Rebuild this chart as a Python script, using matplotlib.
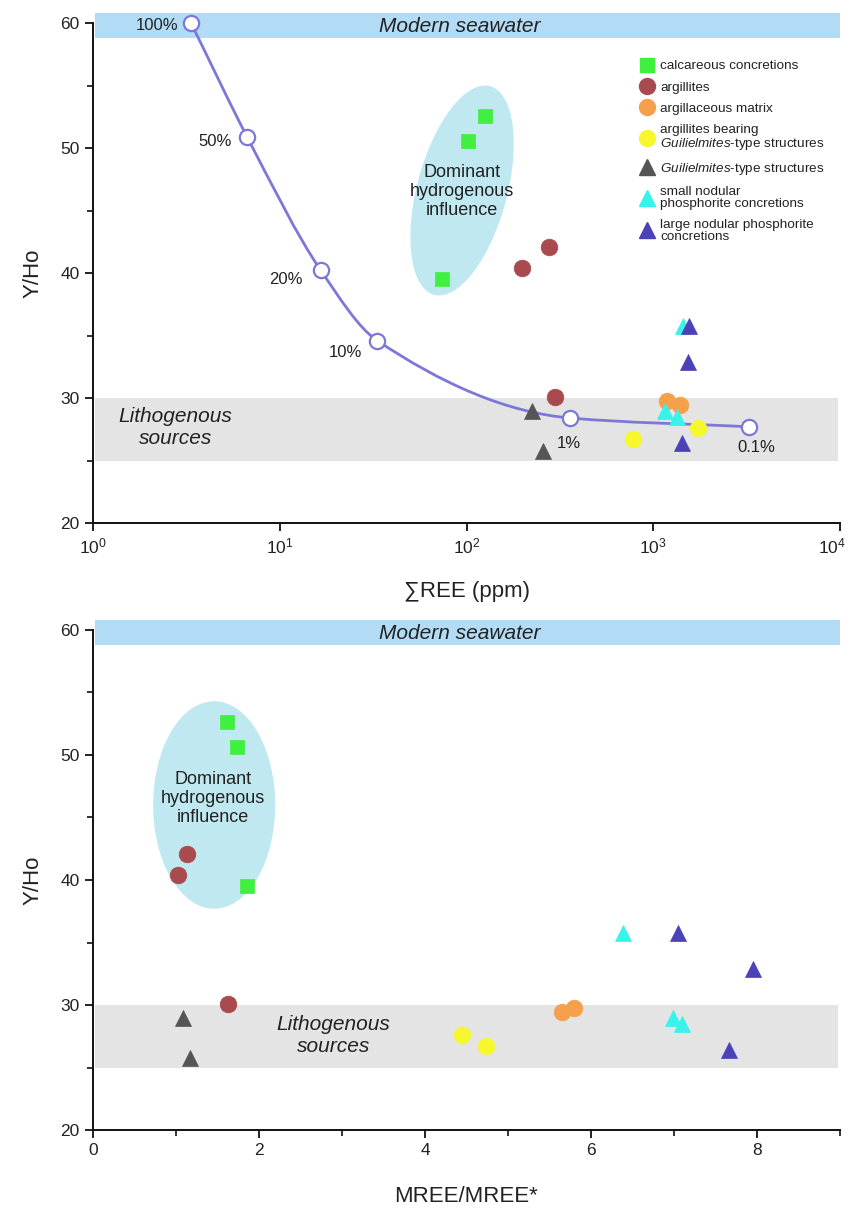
import numpy as np
import matplotlib
matplotlib.use("Agg")
import matplotlib.pyplot as plt
from matplotlib.path import Path
from matplotlib.patches import PathPatch, Ellipse
from matplotlib.lines import Line2D
import matplotlib.transforms as mtransforms

plt.rcParams['font.family'] = ['Liberation Sans', 'DejaVu Sans']
plt.rcParams['mathtext.fontset'] = 'custom'
plt.rcParams['mathtext.rm'] = 'Liberation Sans'
plt.rcParams['mathtext.it'] = 'Liberation Sans:italic'
plt.rcParams['mathtext.bf'] = 'Liberation Sans:bold'

# ---------------- data ----------------
# calcareous concretions
calc_ree = [125.8, 102.0, 74.0]
calc_mree = [1.61, 1.73, 1.85]
calc_yho = [52.6, 50.6, 39.5]
# argillites
arg_ree = [277.0, 199.0, 298.0]
arg_mree = [1.13, 1.03, 1.63]
arg_yho = [42.1, 40.4, 30.1]
# argillaceous matrix
mat_ree = [1190.0, 1390.0]
mat_mree = [5.80, 5.65]
mat_yho = [29.8, 29.45]
# argillites bearing Guilielmites-type structures
argg_ree = [1740.0, 780.0]
argg_mree = [4.44, 4.73]
argg_yho = [27.6, 26.7]
# Guilielmites-type structures
guil_ree = [225.0, 257.0]
guil_mree = [1.08, 1.17]
guil_yho = [29.0, 25.8]
# small nodular phosphorite concretions
small_ree = [1445.0, 1158.0, 1343.0]
small_mree = [6.39, 6.99, 7.10]
small_yho = [35.8, 29.0, 28.5]
# large nodular phosphorite concretions
large_ree = [1557.0, 1538.0, 1428.0]
large_mree = [7.05, 7.95, 7.66]
large_yho = [35.8, 32.9, 26.4]

# mixing curve (seawater fraction)
mix_labels = ['100%', '50%', '20%', '10%', '1%', '0.1%']
mix_ree = [3.35, 6.68, 16.6, 33.2, 359.0, 3265.0]
mix_yho = [60.0, 50.9, 40.2, 34.6, 28.4, 27.7]

groups = [
    ('calcareous concretions', calc_ree, calc_mree, calc_yho, 's', '#3ff03f', 9.5, 9.5),
    ('argillites', arg_ree, arg_mree, arg_yho, 'o', '#a94a4e', 12, 11.5),
    ('argillaceous matrix', mat_ree, mat_mree, mat_yho, 'o', '#f6a04c', 12, 11.5),
    ('argillites bearing\n$\\mathit{Guilielmites}$-type structures', argg_ree, argg_mree, argg_yho, 'o', '#f7f72e', 12, 11.5),
    ('$\\mathit{Guilielmites}$-type structures', guil_ree, guil_mree, guil_yho, '^', '#555555', 11, 11),
    ('small nodular\nphosphorite concretions', small_ree, small_mree, small_yho, '^', '#38f2ec', 11, 11),
    ('large nodular phosphorite\nconcretions', large_ree, large_mree, large_yho, '^', '#4a42b6', 11, 11),
]

SEA_COL = '#b2dbf6'
LITH_COL = '#e4e4e4'
ELL_COL = '#bfe8f0'
CURVE_COL = '#7c78d8'
TXT = '#222222'

fig = plt.figure(figsize=(8.49, 12.08), dpi=100)
ax1 = fig.add_axes([93/849, 1-523/1208, 747/849, 500/1208])
ax2 = fig.add_axes([93/849, 1-1130/1208, 747/849, 500/1208])


def style_axes(ax):
    for s in ['top', 'right']:
        ax.spines[s].set_visible(False)
    for s in ['left', 'bottom']:
        ax.spines[s].set_linewidth(1.4)
        ax.spines[s].set_color('#111111')
    ax.tick_params(which='major', direction='out', length=6, width=1.3, labelsize=12.5,
                   colors='#111111', labelcolor=TXT)
    ax.tick_params(which='minor', direction='out', length=4, width=1.2, colors='#111111')
    ax.set_ylim(20, 60)
    ax.set_yticks([20, 30, 40, 50, 60])
    ax.set_yticks([25, 35, 45, 55], minor=True)
    ax.set_ylabel('Y/Ho', fontsize=16, color=TXT, labelpad=12)


# ---------------- top panel ----------------
ax1.set_xscale('log')
ax1.set_xlim(1, 1e4)
style_axes(ax1)
ax1.xaxis.set_minor_locator(matplotlib.ticker.NullLocator())
ax1.set_xticks([1, 10, 100, 1000, 10000])
ax1.set_xlabel('∑REE (ppm)', fontsize=16, color=TXT, labelpad=18)

# ---------------- bottom panel ----------------
ax2.set_xlim(0, 9)
style_axes(ax2)
ax2.set_xticks([0, 2, 4, 6, 8])
ax2.set_xticks([1, 3, 5, 7, 9], minor=True)
ax2.set_xlabel('MREE/MREE*', fontsize=16, color=TXT, labelpad=20)

for ax in (ax1, ax2):
    ax.axhspan(58.8, 60.8, xmin=0.003, xmax=1.0, color=SEA_COL, lw=0, zorder=0.5, clip_on=False)
    ax.axhspan(25, 30, xmin=0.003, xmax=0.997, color=LITH_COL, lw=0, zorder=0.5)
    ax.text(0.491, 59.75, 'Modern seawater', style='italic', fontsize=15, color=TXT,
            ha='center', va='center', transform=ax.get_yaxis_transform(), zorder=3)

ax1.text(0.11, 27.6, 'Lithogenous\nsources', style='italic', fontsize=15, color=TXT,
         ha='center', va='center', transform=ax1.get_yaxis_transform(), linespacing=1.2, zorder=3)
ax2.text(2.9, 27.6, 'Lithogenous\nsources', style='italic', fontsize=15, color=TXT,
         ha='center', va='center', linespacing=1.2, zorder=3)

# ellipses
tr1 = fig.dpi_scale_trans + mtransforms.ScaledTranslation(94.7, 46.6, ax1.transData)
ax1.add_patch(Ellipse((0, 0), 0.90, 2.16, angle=-15, transform=tr1, facecolor=ELL_COL,
                      edgecolor='none', zorder=1))
ax2.add_patch(Ellipse((1.46, 46.0), 1.47, 16.6, facecolor=ELL_COL, edgecolor='none', zorder=1))
ax1.text(94.7, 46.5, 'Dominant\nhydrogenous\ninfluence', fontsize=13, color=TXT,
         ha='center', va='center', linespacing=1.15, zorder=3)
ax2.text(1.45, 46.5, 'Dominant\nhydrogenous\ninfluence', fontsize=13, color=TXT,
         ha='center', va='center', linespacing=1.15, zorder=3)

# mixing curve (monotone cubic drawn as Bezier path in log-x space)
u = np.log10(mix_ree)
v = np.asarray(mix_yho)
h = np.diff(u)
d = np.diff(v) / h
m = np.zeros_like(v)
m[0] = d[0]
m[-1] = d[-1]
for k in range(1, len(v) - 1):
    if d[k-1] * d[k] <= 0:
        m[k] = 0
    else:
        w1 = 2*h[k] + h[k-1]
        w2 = h[k] + 2*h[k-1]
        m[k] = (w1 + w2) / (w1/d[k-1] + w2/d[k])
verts = [(u[0], v[0])]
codes = [Path.MOVETO]
for k in range(len(v) - 1):
    verts += [(u[k] + h[k]/3, v[k] + m[k]*h[k]/3),
              (u[k+1] - h[k]/3, v[k+1] - m[k+1]*h[k]/3),
              (u[k+1], v[k+1])]
    codes += [Path.CURVE4]*3
verts = np.array(verts)
verts[:, 0] = 10**verts[:, 0]
ax1.add_patch(PathPatch(Path(verts, codes), fill=False, edgecolor=CURVE_COL, lw=2.0, zorder=2,
                        clip_on=False))
ax1.plot(mix_ree, mix_yho, ls='none', marker='o', ms=11, mfc='white', mec=CURVE_COL, mew=1.6,
         zorder=4, clip_on=False)
offsets = [(-13, -2, 'right'), (-15, -5, 'right'), (-18, -9, 'right'), (-15, -12, 'right'),
           (-13, -25, 'left'), (7, -21, 'center')]
for lab, xx, yy, (dx, dy, ha) in zip(mix_labels, mix_ree, mix_yho, offsets):
    ax1.annotate(lab, (xx, yy), xytext=(dx*0.72, dy*0.72), textcoords='offset points',
                 ha=ha, va='center', fontsize=12, color=TXT, zorder=5)

# data points
handles = []
for lab, ree, mree, yho, mk, col, ms, lms in groups:
    ax1.plot(ree, yho, ls='none', marker=mk, ms=ms, mfc=col, mec=col, mew=0.5, zorder=6)
    ax2.plot(mree, yho, ls='none', marker=mk, ms=ms, mfc=col, mec=col, mew=0.5, zorder=6)
    handles.append(Line2D([], [], ls='none', marker=mk, ms=lms, mfc=col, mec=col, label=lab))

leg = ax1.legend(handles=handles, loc='upper left', bbox_to_anchor=(0.733, 0.926), frameon=False,
                 fontsize=9.7, handlelength=1.0, handletextpad=0.45, labelspacing=0.66,
                 borderaxespad=0, borderpad=0)
for t in leg.get_texts():
    t.set_color(TXT)
    t.set_linespacing(1.0)

fig.canvas.draw()
lbls = ax1.get_xticklabels()
lbls[-1].set_transform(lbls[-1].get_transform() +
                       mtransforms.ScaledTranslation(-8/100, 0, fig.dpi_scale_trans))

fig.savefig('out.png', dpi=100, facecolor='white')
